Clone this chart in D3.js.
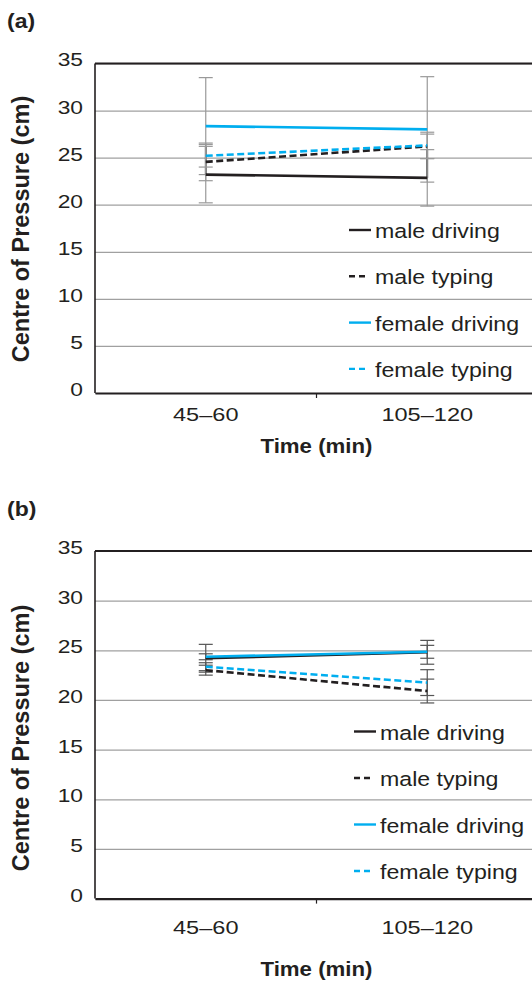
<!DOCTYPE html>
<html>
<head>
<meta charset="utf-8">
<script src="https://cdn.jsdelivr.net/npm/d3@7"></script>
<style>
  html, body { margin: 0; padding: 0; background: #fff; }
  svg { display: block; font-family: "Liberation Sans", Arial, sans-serif; }
</style>
</head>
<body>
<svg id="chart" width="532" height="982"></svg>
<script>
// values
var categories = ['45–60', '105–120'];
var seriesNames = ['male driving', 'male typing', 'female driving', 'female typing'];
var yTicks = [0, 5, 10, 15, 20, 25, 30, 35];

// panel (a)
var aMaleDriving = [23.2, 22.85],    aMaleDrivingErr = [3.0, 3.0];
var aMaleTyping = [24.55, 26.2],     aMaleTypingErr = [2.0, 1.3];
var aFemaleDriving = [28.35, 28.0],  aFemaleDrivingErr = [5.15, 5.6];
var aFemaleTyping = [25.2, 26.3],    aFemaleTypingErr = [1.2, 1.4];

// panel (b)
var bMaleDriving = [24.2, 24.8],     bMaleDrivingErr = [1.4, 1.2];
var bMaleTyping = [23.0, 20.9],      bMaleTypingErr = [0.5, 1.2];
var bFemaleDriving = [24.35, 24.85], bFemaleDrivingErr = [0.3, 0.65];
var bFemaleTyping = [23.35, 21.75],  bFemaleTypingErr = [0.4, 1.3];

var black = '#231f20', blue = '#00aeef';
var styles = {
  'male driving':   { color: black, dash: null },
  'male typing':    { color: black, dash: '7,3.5' },
  'female driving': { color: blue,  dash: null },
  'female typing':  { color: blue,  dash: '7,3.5' }
};

var panels = [
  {
    label: '(a)', labelY: 28,
    top: 63.5, bottom: 393,
    values: [aMaleDriving, aMaleTyping, aFemaleDriving, aFemaleTyping],
    errors: [aMaleDrivingErr, aMaleTypingErr, aFemaleDrivingErr, aFemaleTypingErr],
    errColor: '#999', darkErr: 'male driving',
    tickY: 28.4, titleY: 59.6, yLabelCenter: 229,
    legendX: 349, legendY: 230, legendStep: 46.3
  },
  {
    label: '(b)', labelY: 516,
    top: 551, bottom: 898.6,
    values: [bMaleDriving, bMaleTyping, bFemaleDriving, bFemaleTyping],
    errors: [bMaleDrivingErr, bMaleTypingErr, bFemaleDrivingErr, bFemaleTypingErr],
    errColor: '#555', darkErr: null,
    tickY: 35, titleY: 77.5, yLabelCenter: 738,
    legendX: 354, legendY: 731.5, legendStep: 46.5
  }
];

var svg = d3.select('#chart');
var left = 95, right = 538;

var x = d3.scaleBand().domain(categories).range([left, right]);

panels.forEach(function (p) {
  var y = d3.scaleLinear().domain([0, 35]).range([p.bottom, p.top]);
  var g = svg.append('g');

  // panel letter
  g.append('text')
    .attr('transform', 'translate(7,' + p.labelY + ') scale(1.15,1)')
    .attr('font-size', 20).attr('font-weight', 'bold').attr('fill', black)
    .text(p.label);

  // gridlines
  var grid = g.append('g')
    .attr('transform', 'translate(' + left + ',0)')
    .call(d3.axisLeft(y).tickValues(yTicks).tickSize(-(right - left)).tickFormat(''));
  grid.select('.domain').remove();
  grid.selectAll('line').attr('stroke', '#a0a0a0').attr('stroke-width', 1.2);

  // y tick labels
  var yAxis = g.append('g')
    .attr('transform', 'translate(' + left + ',0)')
    .call(d3.axisLeft(y).tickValues(yTicks).tickSize(0).tickPadding(10));
  yAxis.select('.domain').remove();
  yAxis.selectAll('text')
    .attr('font-size', 19).attr('fill', black).attr('font-family', null)
    .attr('dy', '0.13em')
    .attr('transform', 'scale(1.2,1)');

  // frame
  g.append('line').attr('x1', left).attr('x2', right).attr('y1', y(35)).attr('y2', y(35))
    .attr('stroke', black).attr('stroke-width', 2.2);
  g.append('line').attr('x1', left).attr('x2', left).attr('y1', y(35)).attr('y2', y(0))
    .attr('stroke', black).attr('stroke-width', 1.6);

  // x axis
  var xAxis = g.append('g')
    .attr('transform', 'translate(0,' + y(0) + ')')
    .call(d3.axisBottom(x).tickSize(0));
  xAxis.select('.domain').attr('stroke', black).attr('stroke-width', 2.2);
  xAxis.selectAll('text')
    .attr('font-size', 19).attr('fill', black).attr('font-family', null)
    .attr('y', p.tickY).attr('dy', null)
    .attr('transform', 'scale(1.24,1)');
  // tick between the two categories
  xAxis.append('line')
    .attr('x1', x(categories[1])).attr('x2', x(categories[1]))
    .attr('y1', 0).attr('y2', 5)
    .attr('stroke', black).attr('stroke-width', 1.2);

  // x title
  g.append('text')
    .attr('transform', 'translate(' + x(categories[1]) + ',' + (y(0) + p.titleY) + ') scale(1.06,1)')
    .attr('text-anchor', 'middle')
    .attr('font-size', 21).attr('font-weight', 'bold').attr('fill', black)
    .text('Time (min)');

  // y title
  g.append('text')
    .attr('transform', 'translate(29,' + p.yLabelCenter + ') rotate(-90)')
    .attr('text-anchor', 'middle')
    .attr('font-size', 23.5).attr('font-weight', 'bold').attr('fill', black)
    .text('Centre of Pressure (cm)');

  var cx = function (i) { return x(categories[i]) + x.bandwidth() / 2; };

  // error bars
  var eg = g.append('g');
  seriesNames.forEach(function (name, s) {
    var vals = p.values[s], errs = p.errors[s];
    vals.forEach(function (v, i) {
      var xc = cx(i);
      eg.append('line')
        .attr('x1', xc).attr('x2', xc)
        .attr('y1', y(v + errs[i])).attr('y2', y(v - errs[i]))
        .attr('stroke', p.errColor).attr('stroke-width', 1.2);
      if (p.darkErr === name) {
        eg.append('line')
          .attr('x1', xc).attr('x2', xc)
          .attr('y1', y(v + errs[i])).attr('y2', y(v))
          .attr('stroke', '#333').attr('stroke-width', 1.8);
      }
      [v + errs[i], v - errs[i]].forEach(function (e) {
        eg.append('line')
          .attr('x1', xc - 7).attr('x2', xc + 7)
          .attr('y1', y(e)).attr('y2', y(e))
          .attr('stroke', p.errColor).attr('stroke-width', 1.2);
      });
    });
  });

  // series lines
  var line = d3.line()
    .x(function (d, i) { return cx(i); })
    .y(function (d) { return y(d); });

  seriesNames.forEach(function (name, s) {
    g.append('path')
      .datum(p.values[s])
      .attr('d', line)
      .attr('fill', 'none')
      .attr('stroke', styles[name].color)
      .attr('stroke-width', 2.6)
      .attr('stroke-dasharray', styles[name].dash);
  });

  // legend
  var lg = g.append('g');
  seriesNames.forEach(function (name, s) {
    var item = lg.append('g')
      .attr('transform', 'translate(' + p.legendX + ',' + (p.legendY + s * p.legendStep) + ')');
    var dashed = !!styles[name].dash;
    item.append('line')
      .attr('x1', 0).attr('x2', dashed ? 16 : 22)
      .attr('y1', 0).attr('y2', 0)
      .attr('stroke', styles[name].color)
      .attr('stroke-width', 2.4)
      .attr('stroke-dasharray', dashed ? '6,4' : null);
    item.append('text')
      .attr('transform', 'translate(26,8) scale(1.13,1)')
      .attr('font-size', 20.5).attr('fill', black)
      .text(name);
  });
});
</script>
</body>
</html>
